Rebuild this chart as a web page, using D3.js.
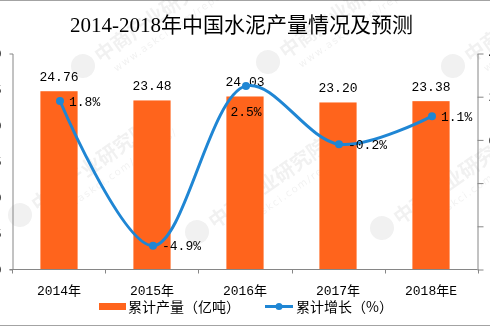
<!DOCTYPE html>
<html>
<head>
<meta charset="utf-8">
<script src="https://cdn.jsdelivr.net/npm/d3@7"></script>
<style>
  html, body { margin: 0; padding: 0; background: #fff; }
  svg { display: block; }
</style>
</head>
<body>
<svg id="chart" width="490" height="327"></svg>
<script>
// ---- data ----
const categories = ["2014年", "2015年", "2016年", "2017年", "2018年E"];
const output = [24.76, 23.48, 24.03, 23.20, 23.38];      // 累计产量（亿吨）
const growth = [1.8, -4.9, 2.5, -0.2, 1.1];              // 累计增长（%）
const leftTicks = [0, 5, 10, 15, 20, 25, 30];
const rightTicks = [-6, -4, -2, 0, 2, 4];
const growthLabelSide = ["right", "right", "below", "right", "right"];
const title = "2014-2018年中国水泥产量情况及预测";
const legendLabels = ["累计产量（亿吨）", "累计增长（%）"];

// ---- styles ----
const ORANGE = "#ff641c";
const BLUE = "#1f86d4";
const AXIS = "#868686";
const MONO = "'Liberation Mono', 'DejaVu Sans Mono', 'Noto Sans CJK SC', monospace";
const CJK = "'Noto Sans CJK SC', sans-serif";

const svg = d3.select("#chart");
const W = 490, H = 327;
const plot = { left: 12.5, right: 477.5, top: 53.5, bottom: 269.5 };

// frame lines top/bottom
svg.append("line").attr("x1", 0).attr("x2", W).attr("y1", 0.5).attr("y2", 0.5)
  .attr("stroke", "#a3a3a3");
svg.append("line").attr("x1", 0).attr("x2", W).attr("y1", H - 1.5).attr("y2", H - 1.5)
  .attr("stroke", "#a3a3a3");

// watermark (faint)
const wm = svg.append("g").attr("class", "watermark").attr("opacity", 0.055);
[[83, 66], [268, 62], [453, 66], [20, 215], [197, 232], [382, 228]].forEach(([cx, cy]) => {
  const g = wm.append("g").attr("transform", `translate(${cx},${cy}) rotate(-35)`);
  g.append("circle").attr("r", 12).attr("fill", "#000");
  g.append("text").attr("x", 16).attr("y", 8).attr("font-family", CJK)
    .attr("font-size", 20).attr("font-weight", "bold").attr("fill", "#000").text("中商产业研究院");
  g.append("text").attr("x", 24).attr("y", 24).attr("font-family", "'DejaVu Sans', sans-serif")
    .attr("font-size", 10).attr("fill", "#000").attr("letter-spacing", 1.5).text("www.askci.com/reports/");
});

// title
svg.append("text")
  .attr("x", 241.5).attr("y", 32)
  .attr("text-anchor", "middle")
  .attr("font-family", "'Liberation Serif', 'Noto Sans CJK SC', serif")
  .attr("font-size", 21)
  .attr("fill", "#000")
  .text(title);

// scales
const x = d3.scaleBand().domain(categories)
  .range([plot.left, plot.right]).paddingInner(0.6).paddingOuter(0.3);
const yL = d3.scaleLinear().domain([0, 30]).range([plot.bottom, plot.top]);
const yR = d3.scaleLinear().domain([-6, 4]).range([plot.bottom, plot.top]);

// bars
svg.append("g").selectAll("rect").data(output).join("rect")
  .attr("x", (d, i) => x(categories[i]))
  .attr("y", d => yL(d))
  .attr("width", x.bandwidth())
  .attr("height", d => yL(0) - yL(d))
  .attr("fill", ORANGE);

// left axis
const gL = svg.append("g").attr("transform", `translate(${plot.left},0)`)
  .call(d3.axisLeft(yL).tickValues(leftTicks).tickSizeInner(0).tickSizeOuter(3).tickPadding(11));
gL.select(".domain").attr("stroke", AXIS);
gL.selectAll("text").attr("font-family", MONO).attr("font-size", 13).attr("fill", "#000");

// right axis
const gR = svg.append("g").attr("transform", `translate(${plot.right},0)`)
  .call(d3.axisRight(yR).tickValues(rightTicks).tickSizeInner(6).tickSizeOuter(0).tickPadding(5)
    .tickFormat(d => d.toFixed(1) + "%"));
gR.select(".domain").attr("stroke", AXIS);
gR.selectAll(".tick line").attr("stroke", AXIS);
gR.selectAll("text").attr("font-family", MONO).attr("font-size", 13).attr("fill", "#000");

// bottom axis
const gB = svg.append("g").attr("transform", `translate(0,${plot.bottom})`);
gB.append("line").attr("x1", plot.left - 3).attr("x2", plot.right)
  .attr("y1", 0).attr("y2", 0).attr("stroke", AXIS);
const bounds = d3.range(categories.length + 1).map(i => x(categories[0]) - x.step() * x.paddingOuter() + i * x.step());
gB.selectAll("line.b").data(bounds).join("line").attr("class", "b")
  .attr("x1", d => Math.round(d) + 0.5).attr("x2", d => Math.round(d) + 0.5)
  .attr("y1", 0).attr("y2", 4).attr("stroke", AXIS);
gB.selectAll("text").data(categories).join("text")
  .attr("x", d => x(d) + x.bandwidth() / 2)
  .attr("y", 25)
  .attr("text-anchor", "middle")
  .attr("font-family", MONO).attr("font-size", 13).attr("fill", "#000")
  .text(d => d);

// bar value labels
svg.append("g").selectAll("text").data(output).join("text")
  .attr("x", (d, i) => x(categories[i]) + x.bandwidth() / 2)
  .attr("y", d => yL(d) - 10)
  .attr("text-anchor", "middle")
  .attr("font-family", MONO).attr("font-size", 13).attr("fill", "#000")
  .text(d => d.toFixed(2));

// growth line
const pts = growth.map((g, i) => [x(categories[i]) + x.bandwidth() / 2 + 1, yR(g)]);
svg.append("path")
  .attr("d", d3.line().curve(d3.curveCatmullRom.alpha(0.5))(pts))
  .attr("fill", "none").attr("stroke", BLUE).attr("stroke-width", 3);
svg.append("g").selectAll("circle").data(pts).join("circle")
  .attr("cx", d => d[0]).attr("cy", d => d[1]).attr("r", 4).attr("fill", BLUE);

// growth labels
svg.append("g").selectAll("text").data(growth).join("text")
  .attr("x", (d, i) => growthLabelSide[i] === "below" ? pts[i][0] : pts[i][0] + 9)
  .attr("y", (d, i) => growthLabelSide[i] === "below" ? pts[i][1] + 30 : pts[i][1] + 4.5)
  .attr("text-anchor", (d, i) => growthLabelSide[i] === "below" ? "middle" : "start")
  .attr("font-family", MONO).attr("font-size", 13).attr("fill", "#000")
  .text(d => d.toFixed(1) + "%");

// legend
const lg = svg.append("g");
lg.append("rect").attr("x", 99).attr("y", 303).attr("width", 27).attr("height", 7).attr("fill", ORANGE);
lg.append("text").attr("x", 128).attr("y", 312)
  .attr("font-family", CJK).attr("font-size", 14).attr("fill", "#000").text(legendLabels[0]);
lg.append("line").attr("x1", 265).attr("x2", 293).attr("y1", 306.5).attr("y2", 306.5)
  .attr("stroke", BLUE).attr("stroke-width", 3);
lg.append("circle").attr("cx", 279).attr("cy", 306.5).attr("r", 3.5).attr("fill", BLUE);
lg.append("text").attr("x", 296).attr("y", 312)
  .attr("font-family", CJK).attr("font-size", 14).attr("fill", "#000").text(legendLabels[1]);
</script>
</body>
</html>
